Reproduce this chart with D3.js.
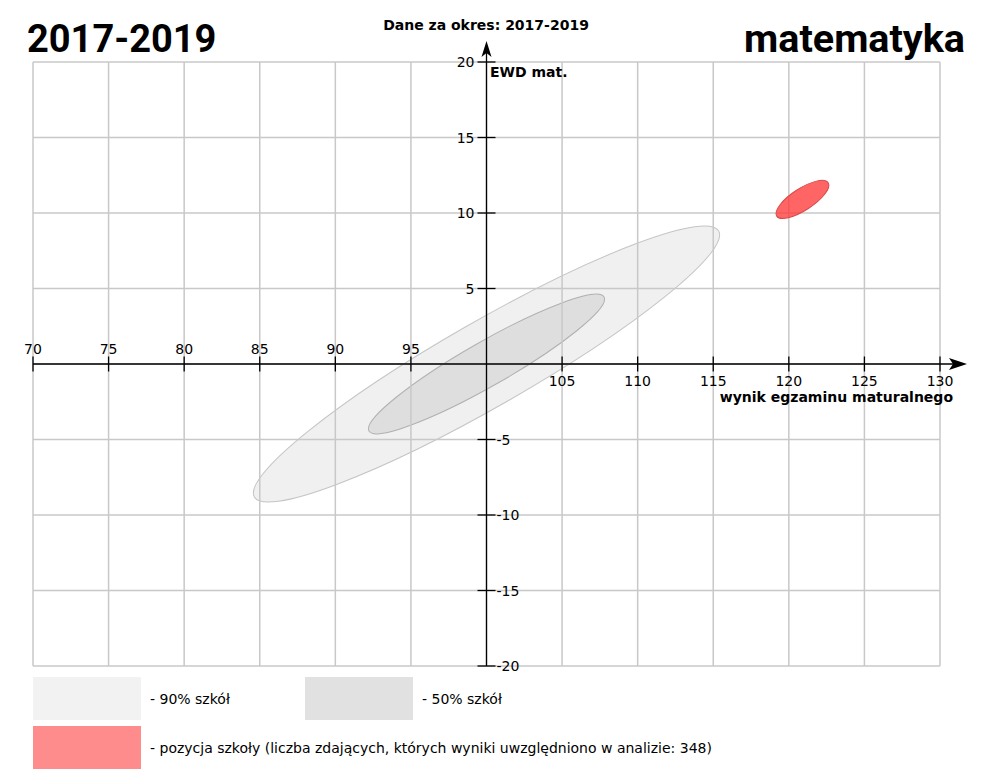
<!DOCTYPE html>
<html><head><meta charset="utf-8">
<script src="https://cdn.jsdelivr.net/npm/d3@7"></script>
<style>body{margin:0;background:#fff}svg{display:block}</style>
</head><body>
<svg id="c" width="994" height="779"></svg>
<script>
// ---- data ----
const xTicks = [70,75,80,85,90,95,100,105,110,115,120,125,130];
const yTicks = [-20,-15,-10,-5,0,5,10,15,20];
const xLabelsAbove = [70,75,80,85,90,95];
const xLabelsBelow = [105,110,115,120,125,130];
const yLabelsLeft = [5,10,15,20];
const yLabelsRight = [-5,-10,-15,-20];
const ellipseNames = ["90% szkół","50% szkół","pozycja szkoły"];
const ellipseCX = [100, 100, 120.9];
const ellipseCY = [0, 0, 10.9];
const ellipseA = [17.7, 8.95, 2.03];   // semi-major (x units)
const ellipseB = [2.82, 1.47, 0.72];   // semi-minor (x units)
const ellipseAngle = [29.8, 29.7, 33];
const legendLabels = ["- 90% szkół","- 50% szkół","- pozycja szkoły (liczba zdających, których wyniki uwzględniono w analizie: 348)"];
const titleLeft = "2017-2019", titleRight = "matematyka", subTitle = "Dane za okres: 2017-2019";
const xAxisTitle = "wynik egzaminu maturalnego", yAxisTitle = "EWD mat.";

// ---- drawing ----
const svg = d3.select("#c");
const x = d3.scaleLinear().domain([70,130]).range([33,940]);
const y = d3.scaleLinear().domain([-20,20]).range([666,62]);
const font = "'DejaVu Sans', sans-serif";

const fills = ["#f0f0f0","#dedede","#ff3a3a"];
const strokes = ["#c4c4c4","#b0b0b0","#d84a4a"];
const opac = [1,1,0.78];

// ellipses (gray) under grid
const eg = svg.append("g");
[0,1].forEach(i=>{
  const cx=x(ellipseCX[i]), cy=y(ellipseCY[i]);
  eg.append("ellipse").attr("transform",`translate(${cx},${cy}) rotate(${-ellipseAngle[i]})`)
    .attr("rx", x(ellipseCX[i]+ellipseA[i])-cx).attr("ry", x(ellipseCX[i]+ellipseB[i])-cx)
    .attr("fill",fills[i]).attr("stroke",strokes[i]).attr("stroke-width",1);
});

// grid
const grid = svg.append("g").attr("stroke","#c8c8c8").attr("stroke-width",1.5);
grid.selectAll(".v").data(xTicks).join("line").attr("x1",d=>x(d)).attr("x2",d=>x(d)).attr("y1",y(20)).attr("y2",y(-20));
grid.selectAll(".h").data(yTicks).join("line").attr("y1",d=>y(d)).attr("y2",d=>y(d)).attr("x1",x(70)).attr("x2",x(130));

// school ellipse
{
  const i=2, cx=x(ellipseCX[i]), cy=y(ellipseCY[i]);
  svg.append("ellipse").attr("transform",`translate(${cx},${cy}) rotate(${-ellipseAngle[i]})`)
    .attr("rx", x(ellipseCX[i]+ellipseA[i])-cx).attr("ry", x(ellipseCX[i]+ellipseB[i])-cx)
    .attr("fill",fills[i]).attr("fill-opacity",opac[i]).attr("stroke",strokes[i]).attr("stroke-width",1);
}

// axes
const ax = svg.append("g").attr("stroke","#000").attr("stroke-width",1.3);
const x0 = x(100), y0 = y(0);
ax.append("line").attr("x1",x(70)).attr("x2",956).attr("y1",y0).attr("y2",y0);
ax.append("line").attr("x1",x0).attr("x2",x0).attr("y1",y(-20)).attr("y2",50);
svg.append("path").attr("d",`M967,${y0} L949,${y0-6} L953,${y0} L949,${y0+6} Z`).attr("fill","#000");
svg.append("path").attr("d",`M${x0},41 L${x0-5},57 L${x0},53 L${x0+5},57 Z`).attr("fill","#000");
ax.selectAll(".xt").data(xTicks.filter(d=>d!==100)).join("line").attr("x1",d=>x(d)).attr("x2",d=>x(d)).attr("y1",y0-7.5).attr("y2",y0+7.5);
ax.selectAll(".yt").data(yTicks.filter(d=>d!==0)).join("line").attr("y1",d=>y(d)).attr("y2",d=>y(d)).attr("x1",x0-9).attr("x2",x0+9);

const lab = svg.append("g").attr("font-family",font).attr("font-size",14).attr("fill","#000");
lab.selectAll(".xa").data(xLabelsAbove).join("text").attr("x",d=>x(d)).attr("y",y0-10).attr("text-anchor","middle").text(d=>d);
lab.selectAll(".xb").data(xLabelsBelow).join("text").attr("x",d=>x(d)).attr("y",y0+22).attr("text-anchor","middle").text(d=>d);
lab.selectAll(".yl").data(yLabelsLeft).join("text").attr("x",x0-12).attr("y",d=>y(d)+5).attr("text-anchor","end").text(d=>d);
lab.selectAll(".yr").data(yLabelsRight).join("text").attr("x",x0+10).attr("y",d=>y(d)+5).attr("text-anchor","start").text(d=>d);

svg.append("text").attr("x",953).attr("y",402).attr("text-anchor","end").attr("font-family",font).attr("font-weight","bold").attr("font-size",14).text(xAxisTitle);
svg.append("text").attr("x",490).attr("y",77).attr("font-family",font).attr("font-weight","bold").attr("font-size",14).text(yAxisTitle);
svg.append("text").attr("x",486).attr("y",30).attr("text-anchor","middle").attr("font-family",font).attr("font-weight","bold").attr("font-size",14).text(subTitle);

svg.append("text").attr("x",27).attr("y",52).attr("font-family","Roboto, sans-serif").attr("font-weight","bold").attr("font-size",38).text(titleLeft);
svg.append("text").attr("x",965).attr("y",52).attr("text-anchor","end").attr("font-family","Roboto, sans-serif").attr("font-weight","bold").attr("font-size",39.5).text(titleRight);

// legend
const legFill = ["#f2f2f2","#e1e1e1","#ff8c8c"];
const legX = [33,305,33], legY=[677,677,726];
const lg = svg.append("g");
legendLabels.forEach((t,i)=>{
  lg.append("rect").attr("x",legX[i]).attr("y",legY[i]).attr("width",108).attr("height",43).attr("fill",legFill[i]);
  lg.append("text").attr("x",legX[i]+117).attr("y",legY[i]+27).attr("font-family",font).attr("font-size",14).text(t);
});
</script>
</body></html>
